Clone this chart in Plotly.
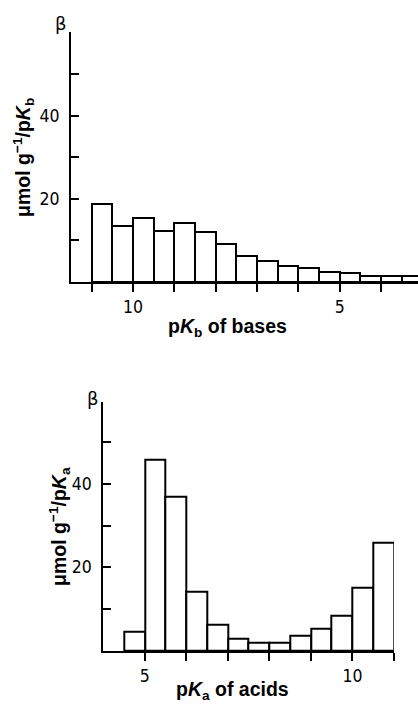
import plotly.graph_objects as go

# ---- data ----
# top panel: bases, bin centres (pKb) and beta values
pkb_centers = [10.75, 10.25, 9.75, 9.25, 8.75, 8.25, 7.75, 7.25, 6.75, 6.25, 5.75, 5.25, 4.75, 4.25, 3.75, 3.25]
beta_bases = [18.9, 13.5, 15.3, 12.2, 14.1, 12.0, 9.2, 6.2, 5.1, 3.8, 3.4, 2.5, 2.1, 1.4, 1.4, 1.5]

# bottom panel: acids, bin centres (pKa) and beta values
pka_centers = [4.75, 5.25, 5.75, 6.25, 6.75, 7.25, 7.75, 8.25, 8.75, 9.25, 9.75, 10.25, 10.75]
beta_acids = [4.6, 45.8, 36.9, 14.1, 6.4, 2.9, 2.1, 2.1, 3.6, 5.3, 8.5, 15.2, 25.9]

bin_width = 0.5

top_xticks_labeled = [10, 5]
top_xticks_all = [11, 10, 9, 8, 7, 6, 5, 4]
bot_xticks_labeled = [5, 10]
bot_xticks_all = [5, 6, 7, 8, 9, 10, 11]
yticks_labeled = [20, 40]
yticks_all = [10, 20, 30, 40, 50]

W, H = 418, 707


def px(x):
    return x / W


def py(y):
    return 1 - y / H


TICKFONT = dict(family="Liberation Sans Narrow, DejaVu Sans Condensed, Liberation Sans", size=17.5, color="black")
TITLEFONT = dict(family="Liberation Sans, Arial, sans-serif", size=19.5, color="black")

fig = go.Figure()
bar_style = dict(marker=dict(color="white", line=dict(color="black", width=2)), width=bin_width,
                 showlegend=False, hoverinfo="skip")
fig.add_trace(go.Bar(x=pkb_centers, y=beta_bases, xaxis="x", yaxis="y", **bar_style))
fig.add_trace(go.Bar(x=pka_centers, y=beta_acids, xaxis="x2", yaxis="y2", **bar_style))

common_x = dict(showgrid=False, zeroline=False, showline=True, linecolor="black", linewidth=2,
                ticks="outside", ticklen=8, tickwidth=2, tickcolor="black", tickfont=TICKFONT,
                ticklabelstandoff=0)
common_y = dict(showgrid=False, zeroline=False, showline=True, linecolor="black", linewidth=2,
                ticks="inside", ticklen=8, tickwidth=2, tickcolor="black", tickfont=TICKFONT,
                tickvals=yticks_labeled, ticklabelstandoff=6,
                minor=dict(tickvals=yticks_all, ticks="inside", ticklen=8, tickwidth=2,
                           tickcolor="black", showgrid=False))


def minor_x(vals):
    return dict(tickvals=vals, ticks="outside", ticklen=8, tickwidth=2, tickcolor="black", showgrid=False)


fig.update_layout(
    width=W, height=H, margin=dict(l=0, r=0, t=0, b=0),
    paper_bgcolor="white", plot_bgcolor="white", bargap=0,
    xaxis=dict(domain=[px(71), 1.0], range=[11.5, 3.104], anchor="y",
               tickvals=top_xticks_labeled, minor=minor_x(top_xticks_all), **common_x),
    yaxis=dict(domain=[py(282), py(32)], range=[0, 60.2], anchor="x", **common_y),
    xaxis2=dict(domain=[px(103.3), px(394)], range=[4, 11], anchor="y2",
                tickvals=bot_xticks_labeled, minor=minor_x(bot_xticks_all), **common_x),
    yaxis2=dict(domain=[py(651), py(401.7)], range=[0, 59.6], anchor="x2", **common_y),
)

annotations = [
    dict(x=px(228), y=py(327), text="<b>p<i>K</i><sub>b</sub> of bases</b>"),
    dict(x=px(232), y=py(690), text="<b>p<i>K</i><sub>a</sub> of acids</b>"),
    dict(x=px(24), y=py(158), text="<b>μmol g<sup>−1</sup>/p<i>K</i><sub>b</sub></b>", textangle=-90),
    dict(x=px(59), y=py(526), text="<b>μmol g<sup>−1</sup>/p<i>K</i><sub>a</sub></b>", textangle=-90),
]
for a in annotations:
    fig.add_annotation(xref="paper", yref="paper", showarrow=False, font=TITLEFONT,
                       xanchor="center", yanchor="middle", **a)

for (bx, by) in [(61, 24), (92.5, 399)]:
    fig.add_annotation(xref="paper", yref="paper", x=px(bx), y=py(by), text="β", showarrow=False,
                       font=dict(family="DejaVu Sans, Liberation Sans", size=18, color="black"),
                       xanchor="center", yanchor="middle")

fig.write_html("out.html", config={"displayModeBar": False},
               post_script="document.body.style.margin='0';document.body.style.overflow='hidden';")
